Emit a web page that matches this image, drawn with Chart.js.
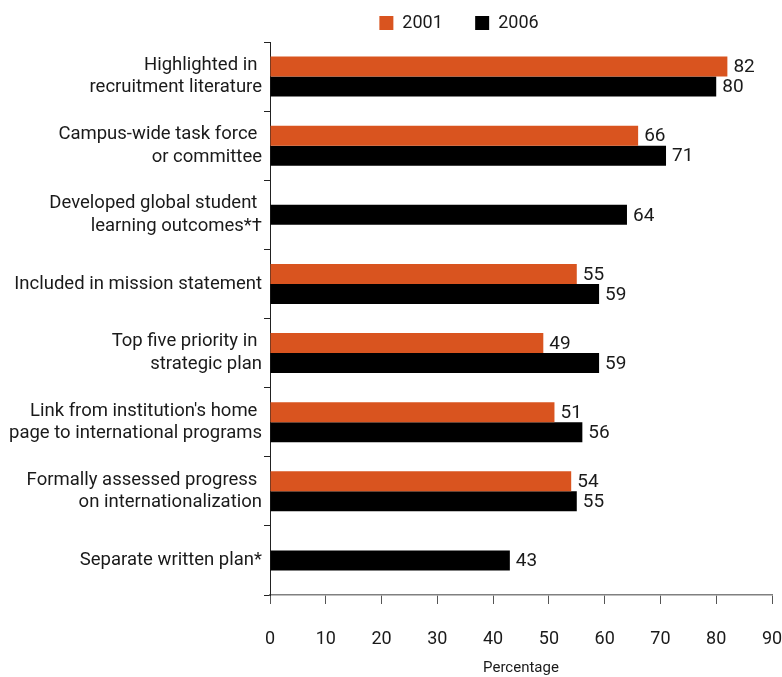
<!DOCTYPE html>
<html lang="en">
<head>
    <meta charset="UTF-8">
    <title>Internationalization Indicators</title>
    <script src="https://cdn.jsdelivr.net/npm/chart.js"></script>
    <style>
        body {
            margin: 0;
            background: #fff;
        }
    </style>
</head>
<body>
    <canvas id="chart" width="782" height="677"></canvas>

    <script>
        // Categories (multi-line labels) and the two survey years
        const categories = [
            ['Highlighted in ', 'recruitment literature'],
            ['Campus-wide task force ', 'or committee'],
            ['Developed global student ', 'learning outcomes*\u2020'],
            'Included in mission statement',
            ['Top five priority in ', 'strategic plan'],
            ["Link from institution's home ", 'page to international programs'],
            ['Formally assessed progress ', 'on internationalization'],
            'Separate written plan*'
        ];
        const values2001 = [82, 66, null, 55, 49, 51, 54, null];
        const values2006 = [80, 71, 64, 59, 59, 56, 55, 43];
        const xTicks = [0, 10, 20, 30, 40, 50, 60, 70, 80, 90];

        const FONT = 'Roboto, "Liberation Sans", sans-serif';
        const TEXT = '#1a1a1a';

        // Value labels to the right of each bar
        const valueLabels = {
            id: 'valueLabels',
            afterDatasetsDraw(chart) {
                const ctx = chart.ctx;
                ctx.save();
                ctx.font = '19px ' + FONT;
                ctx.fillStyle = TEXT;
                ctx.textAlign = 'left';
                ctx.textBaseline = 'middle';
                chart.data.datasets.forEach((ds, i) => {
                    chart.getDatasetMeta(i).data.forEach((bar, j) => {
                        const v = ds.data[j];
                        if (v === null) return;
                        ctx.fillText(String(v), bar.x + 6, bar.y + 1);
                    });
                });
                ctx.restore();
            }
        };

        // Nudge the legend so it sits over the bars
        const legendShift = {
            id: 'legendShift',
            afterLayout(chart) {
                chart.legend.left += 68;
                chart.legend.right += 68;
            }
        };

        new Chart(document.getElementById('chart'), {
            type: 'bar',
            data: {
                labels: categories,
                datasets: [
                    { label: '2001     ', data: values2001, backgroundColor: '#d9541f' },
                    { label: '2006', data: values2006, backgroundColor: '#000000' }
                ]
            },
            options: {
                indexAxis: 'y',
                responsive: false,
                animation: false,
                skipNull: true,
                categoryPercentage: 0.58,
                barPercentage: 1.0,
                maxBarThickness: 20,
                layout: { padding: { top: 4, right: 0, bottom: 0, left: 0 } },
                plugins: {
                    legend: {
                        position: 'top',
                        labels: {
                            boxWidth: 14,
                            boxHeight: 14,
                            padding: 10,
                            color: TEXT,
                            font: { family: FONT, size: 18 }
                        }
                    },
                    tooltip: { enabled: false }
                },
                scales: {
                    x: {
                        min: 0,
                        max: 90,
                        afterBuildTicks(axis) {
                            axis.ticks = xTicks.map(v => ({ value: v }));
                        },
                        afterFit(axis) {
                            axis.height = 82;
                            // keep only room for the last tick label on the right
                            axis.paddingLeft = 0;
                            axis.paddingRight = 10;
                        },
                        grid: {
                            drawOnChartArea: false,
                            tickLength: 9,
                            tickColor: '#555'
                        },
                        border: { color: '#808080', width: 1.5 },
                        ticks: {
                            padding: 25,
                            color: TEXT,
                            font: { family: FONT, size: 18 }
                        },
                        title: {
                            display: true,
                            text: 'Percentage',
                            color: TEXT,
                            font: { family: FONT, size: 15 },
                            padding: { top: 2, bottom: 0 }
                        }
                    },
                    y: {
                        afterFit(axis) {
                            axis.width = 270;
                        },
                        grid: {
                            drawOnChartArea: false,
                            tickLength: 6,
                            tickColor: '#222'
                        },
                        border: { color: '#222', width: 1 },
                        ticks: {
                            padding: 2,
                            color: TEXT,
                            font: { family: FONT, size: 18.5, lineHeight: 1.22 }
                        }
                    }
                }
            },
            plugins: [valueLabels, legendShift]
        });
    </script>
</body>
</html>
